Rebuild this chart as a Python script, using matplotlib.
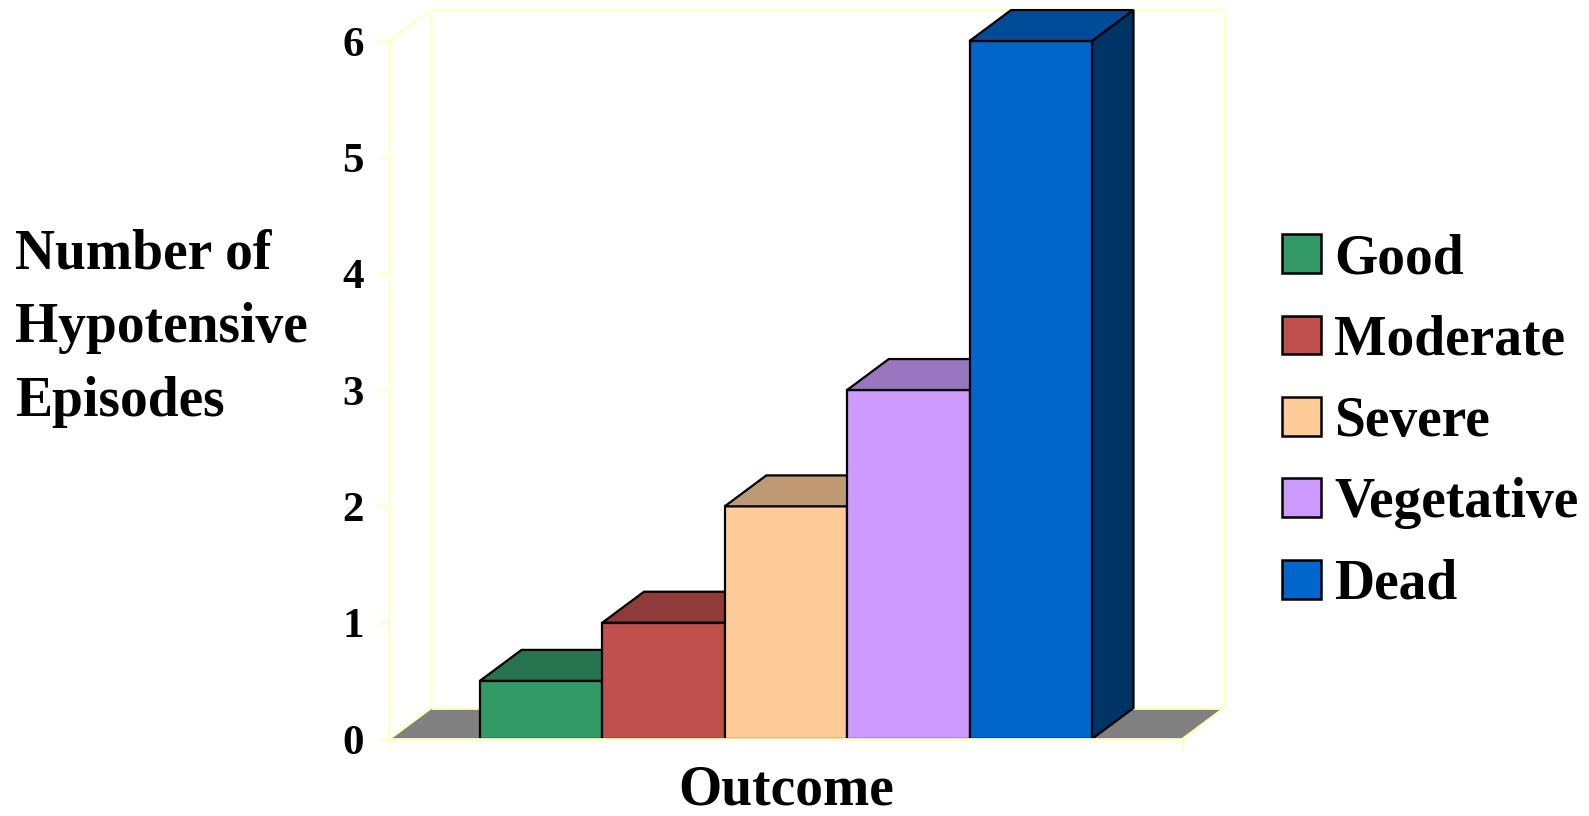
import matplotlib.pyplot as plt
from matplotlib.patches import Polygon, Rectangle, Patch

# Datos
categories = ['Good', 'Moderate', 'Severe', 'Vegetative', 'Dead']
episodes = [0.5, 1, 2, 3, 6]
y_ticks = [0, 1, 2, 3, 4, 5, 6]

# Colores de cada barra (frente, tapa, lateral)
front_colors = ['#339966', '#C0504D', '#FFCC99', '#CC99FF', '#0066CC']
top_colors = ['#267350', '#903A3A', '#BF9973', '#9977C0', '#004C99']
side_colors = ['#1A4D33', '#602727', '#806650', '#664D80', '#003366']

# Profundidad del efecto 3D (unidades de categoria, unidades de valor)
DX, DY = 0.34, 0.266
FLOOR_L, FLOOR_R = -0.743, 5.743
WALL_COLOR = '#FFFFCC'
FLOOR_COLOR = '#808080'

plt.rcParams['font.family'] = ['Liberation Serif', 'DejaVu Serif']
plt.rcParams['font.weight'] = 'bold'

fig = plt.figure(figsize=(15.89, 8.16), dpi=100)
ax = fig.add_axes([389 / 1589, 7.2 / 816, 862 / 1589, 808.5 / 816])
ax.set_xlim(FLOOR_L, 6.3)
ax.set_ylim(-0.6, 6.35)

for side in ['top', 'right', 'bottom']:
    ax.spines[side].set_visible(False)
ax.spines['left'].set_bounds(0, y_ticks[-1])
ax.spines['left'].set_color(WALL_COLOR)
ax.spines['left'].set_linewidth(2)
ax.set_xticks([])
ax.set_yticks(y_ticks)
ax.set_yticklabels([str(t) for t in y_ticks], fontsize=31, fontweight='bold')
ax.tick_params(axis='y', length=8, width=2, color=WALL_COLOR, pad=10)

# Piso gris
ax.add_patch(Polygon([(FLOOR_L, 0), (FLOOR_R, 0), (FLOOR_R + DX, DY), (FLOOR_L + DX, DY)],
                     closed=True, facecolor=FLOOR_COLOR, edgecolor='none', zorder=1))

# Lineas de las paredes
ymax = y_ticks[-1]
wall_lines = [
    ((FLOOR_L + DX, FLOOR_R + DX), (DY, DY)),
    ((FLOOR_L + DX, FLOOR_L + DX), (DY, ymax + DY)),
    ((FLOOR_R + DX, FLOOR_R + DX), (DY, ymax + DY)),
    ((FLOOR_L + DX, FLOOR_R + DX), (ymax + DY, ymax + DY)),
    ((FLOOR_L, FLOOR_L + DX), (ymax, ymax + DY)),
    ((FLOOR_R, FLOOR_R + DX), (0, DY)),
    ((FLOOR_L, FLOOR_L + DX), (0, DY)),
]
for xs, ys in wall_lines:
    ax.plot(xs, ys, color=WALL_COLOR, lw=2, zorder=2, solid_capstyle='butt')

# Barras 3D
for i, v in enumerate(episodes):
    z = 3 + i
    ax.add_patch(Polygon([(i + 1, 0), (i + 1 + DX, DY), (i + 1 + DX, v + DY), (i + 1, v)],
                         closed=True, facecolor=side_colors[i], edgecolor='black', lw=1.6, zorder=z))
    ax.add_patch(Rectangle((i, 0), 1, v, facecolor=front_colors[i], edgecolor='black', lw=1.6, zorder=z))
    ax.add_patch(Polygon([(i, v), (i + 1, v), (i + 1 + DX, v + DY), (i + DX, v + DY)],
                         closed=True, facecolor=top_colors[i], edgecolor='black', lw=1.6, zorder=z))

# Borde frontal del piso y marcas de los extremos
ax.plot((FLOOR_L, FLOOR_R), (0, 0), color=WALL_COLOR, lw=2, zorder=10)
for xe in (FLOOR_L, FLOOR_R):
    ax.plot((xe, xe), (0, -0.095), color=WALL_COLOR, lw=2, zorder=10)

ax.text((FLOOR_L + FLOOR_R) / 2, -0.56, 'Outcome', ha='center', va='baseline',
        fontsize=40, fontweight='bold')

fig.text(15 / 1589, 0.598, 'Number of\nHypotensive\nEpisodes', ha='left', va='center',
         fontsize=40, fontweight='bold', linespacing=1.55)

handles = [Patch(facecolor=c, edgecolor='black', lw=1.8) for c in front_colors]
fig.legend(handles, categories, loc='upper left', bbox_to_anchor=(1282 / 1589, 1 - 233 / 816),
           frameon=False, fontsize=40, handlelength=0.7, handleheight=0.7,
           handletextpad=0.24, labelspacing=0.53, borderpad=0, borderaxespad=0)

fig.savefig('out.png', dpi=100)
